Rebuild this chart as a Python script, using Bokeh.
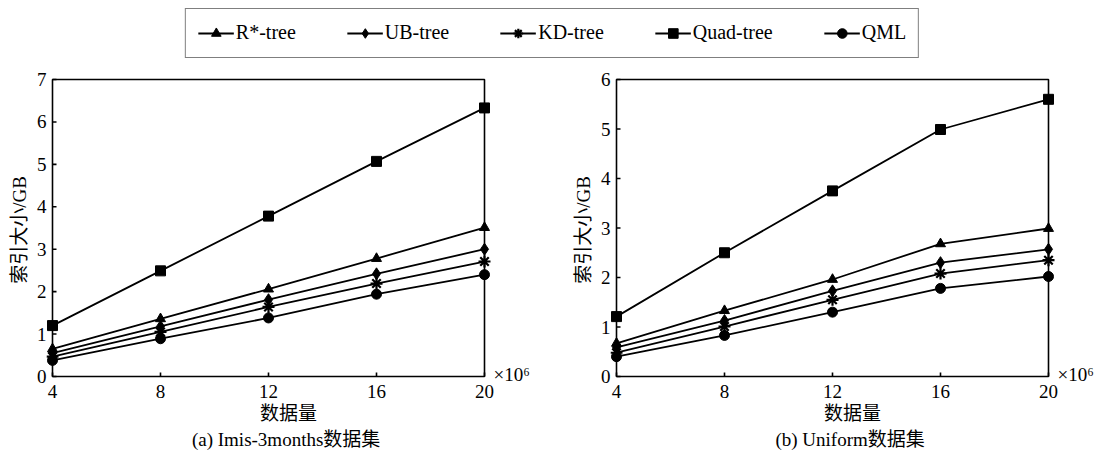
from bokeh.plotting import figure
from bokeh.layouts import column, row
from bokeh.models import (Legend, LegendItem, Label, Title, FixedTicker, Range1d,
                          ColumnDataSource, BoxAnnotation)
from bokeh.embed import file_html
from bokeh.resources import INLINE

# ---------------- data ----------------
data_sizes = [4, 8, 12, 16, 20]          # x 10^6 records
series_names = ["R*-tree", "UB-tree", "KD-tree", "Quad-tree", "QML"]

imis_rstar = [0.65, 1.36, 2.06, 2.78, 3.51]
imis_ub = [0.55, 1.18, 1.81, 2.42, 3.00]
imis_kd = [0.47, 1.05, 1.64, 2.19, 2.71]
imis_quad = [1.20, 2.49, 3.78, 5.07, 6.33]
imis_qml = [0.38, 0.89, 1.38, 1.94, 2.40]

uni_rstar = [0.67, 1.33, 1.96, 2.68, 2.99]
uni_ub = [0.59, 1.13, 1.73, 2.30, 2.57]
uni_kd = [0.48, 1.01, 1.55, 2.08, 2.35]
uni_quad = [1.21, 2.50, 3.75, 4.99, 5.60]
uni_qml = [0.40, 0.83, 1.30, 1.78, 2.02]

x_ticks = [4, 8, 12, 16, 20]
y_ticks_a = [0, 1, 2, 3, 4, 5, 6, 7]
y_ticks_b = [0, 1, 2, 3, 4, 5, 6]

LATIN = "Liberation Serif"
FONT = "'Liberation Serif', 'Noto Sans CJK SC'"
markers = ["triangle", "diamond", "asterisk", "square", "circle"]
msizes = [10, 12, 12, 10, 10]

BOX_W = 432
BOX_H = 297
PAD_L, PAD_R, PAD_T, PAD_B = 6, 46, 2, 6
TICK_LEN = 4


def make_panel(series, yticks, ymax, caption, width, bl, br):
    xs_unit = BOX_W / (x_ticks[-1] - x_ticks[0])
    ys_unit = BOX_H / ymax
    p = figure(width=width, height=386, output_backend="svg", toolbar_location=None,
               x_range=Range1d(x_ticks[0] - PAD_L / xs_unit, x_ticks[-1] + PAD_R / xs_unit),
               y_range=Range1d(-PAD_B / ys_unit, ymax + PAD_T / ys_unit),
               min_border_left=bl, min_border_right=br,
               min_border_top=12, min_border_bottom=69)
    p.outline_line_color = None
    p.grid.visible = False
    p.background_fill_color = "white"
    p.border_fill_color = "white"

    # plot box
    p.add_layout(BoxAnnotation(left=x_ticks[0], right=x_ticks[-1], bottom=0, top=ymax,
                               fill_color=None, fill_alpha=0, line_color="black",
                               line_alpha=1.0, line_width=1.6, level="overlay"))
    # inward tick marks
    p.segment(x0=x_ticks, y0=[0] * len(x_ticks), x1=x_ticks,
              y1=[TICK_LEN / ys_unit] * len(x_ticks), line_color="black", line_width=1.6)
    p.segment(x0=[x_ticks[0]] * len(yticks), y0=yticks,
              x1=[x_ticks[0] + TICK_LEN / xs_unit] * len(yticks), y1=yticks,
              line_color="black", line_width=1.6)

    for vals, mk, ms in zip(series, markers, msizes):
        src = ColumnDataSource(dict(x=data_sizes, y=vals))
        p.line("x", "y", source=src, line_color="black", line_width=1.8)
        if mk == "asterisk":
            p.scatter("x", "y", source=src, marker=mk, size=ms, line_color="black",
                      line_width=2.2)
        else:
            p.scatter("x", "y", source=src, marker=mk, size=ms, fill_color="black",
                      line_color="black")

    for ax in (p.xaxis[0], p.yaxis[0]):
        ax.minor_tick_line_color = None
        ax.major_tick_line_color = None
        ax.major_tick_in = 0
        ax.major_tick_out = 0
        ax.axis_line_color = None
        ax.major_label_text_font = LATIN
        ax.major_label_text_font_size = "19px"
        ax.major_label_text_color = "black"
        ax.axis_label_text_font = FONT
        ax.axis_label_text_font_size = "19px"
        ax.axis_label_text_font_style = "normal"
        ax.axis_label_text_color = "black"

    p.xaxis.ticker = FixedTicker(ticks=x_ticks)
    p.yaxis.ticker = FixedTicker(ticks=yticks)
    p.xaxis.major_label_standoff = 2
    p.xaxis.axis_label = "数据量"
    p.xaxis.axis_label_standoff = 2
    p.yaxis.major_label_standoff = 0
    p.yaxis.axis_label = "索引大小/GB"
    p.yaxis.axis_label_standoff = 4

    p.add_layout(Title(text=caption, align="center", text_font=FONT,
                       text_font_size="19px", text_font_style="normal",
                       text_color="black", standoff=0), "below")

    # multiplier note next to the last x tick
    p.add_layout(Label(x=x_ticks[-1], y=2 / ys_unit, x_offset=9, y_offset=0,
                       text="×10⁶", text_font=LATIN, text_font_size="19px",
                       text_baseline="alphabetic",
                       text_align="left", text_color="black"))
    return p


p1 = make_panel([imis_rstar, imis_ub, imis_kd, imis_quad, imis_qml], y_ticks_a, 7,
                "(a)  Imis-3months数据集", 560, 46, 30)
p2 = make_panel([uni_rstar, uni_ub, uni_kd, uni_quad, uni_qml], y_ticks_b, 6,
                "(b)  Uniform数据集", 544, 50, 10)

# ---------------- legend strip ----------------
lg = figure(width=1104, height=65, output_backend="svg", toolbar_location=None,
            x_range=Range1d(0, 1), y_range=Range1d(0, 1),
            x_axis_location=None, y_axis_location=None,
            min_border=0)
lg.outline_line_color = None
lg.grid.visible = False
items = []
for name, mk, ms in zip(series_names, markers, msizes):
    src = ColumnDataSource(dict(x=[-10], y=[-10]))
    r1 = lg.line("x", "y", source=src, line_color="black", line_width=1.8)
    if mk == "asterisk":
        r2 = lg.scatter("x", "y", source=src, marker=mk, size=ms, line_color="black",
                        line_width=2.2)
    else:
        r2 = lg.scatter("x", "y", source=src, marker=mk, size=ms, fill_color="black",
                        line_color="black")
    items.append(LegendItem(label=name, renderers=[r1, r2]))

legend = Legend(items=items, orientation="horizontal", location="center",
                border_line_color="black", border_line_width=1.6,
                label_text_font=LATIN, label_text_font_size="20px",
                label_text_color="black",
                glyph_width=36, glyph_height=24, label_standoff=2, spacing=51,
                padding=12, margin=0, background_fill_alpha=0)
lg.add_layout(legend, "center")

layout = column(lg, row(p1, p2))
open("out.html", "w").write(file_html(layout, INLINE))
